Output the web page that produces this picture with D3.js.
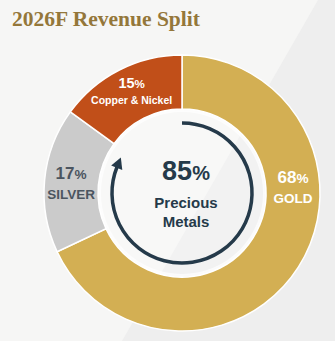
<!DOCTYPE html>
<html><head><meta charset="utf-8">
<script src="https://cdn.jsdelivr.net/npm/d3@7"></script>
<style>html,body{margin:0;padding:0;background:#f6f6f5;}svg{display:block;}</style>
</head><body><svg id="c" width="335" height="341"></svg>
<script>
const title = "2026F Revenue Split";
const categories = ["GOLD", "SILVER", "Copper & Nickel"];
const values = [68, 17, 15];
const centerValue = 85;
const centerLabel = ["Precious", "Metals"];

const colors = ["#d3af53", "#cbcbcb", "#c14f19"];
const labelColors = ["#ffffff", "#4b5560", "#ffffff"];
const W = 335, H = 341, cx = 182, cy = 193, R = 138, r = 84;
const dark = "#253a4a";

const svg = d3.select("#c");
svg.append("rect").attr("width", W).attr("height", H).attr("fill", "#f6f6f5");
svg.append("path").attr("d", "M318,0 L335,0 L335,341 L122,341 Z").attr("fill", "#eeeeee");

svg.append("text").attr("x", 12).attr("y", 26)
  .attr("font-family", "'Liberation Serif', 'DejaVu Serif', serif")
  .attr("font-weight", "bold").attr("font-size", 21.5).attr("fill", "#94773a")
  .text(title);

const g = svg.append("g").attr("transform", `translate(${cx},${cy})`);
const pie = d3.pie().sort(null).value(d => d)(values);
const arc = d3.arc().innerRadius(r).outerRadius(R);
g.selectAll("path.slice").data(pie).join("path").attr("class", "slice")
  .attr("d", arc).attr("fill", (d, i) => colors[i])
  .attr("stroke", "#ffffff").attr("stroke-width", 1.5);

g.append("circle").attr("r", r - 1.5).attr("fill", "#ffffff").attr("fill-opacity", 0.25)
  .attr("stroke", "#ffffff").attr("stroke-width", 3).attr("stroke-opacity", 0.7);

// label placement (layout): angle clockwise from top, baseline offsets
const labelAngle = [90, 272, 333];
const labelR = 111;
const fs = [[17, 13.5], [17, 13.5], [14.5, 10.5]];
const offs = [[-10, 9.5], [-10, 10], [-6, 10]];
pie.forEach((d, i) => {
  const a = labelAngle[i] * Math.PI / 180;
  const x = Math.sin(a) * labelR, y = -Math.cos(a) * labelR;
  const t = g.append("text").attr("x", x).attr("y", y + offs[i][0])
    .attr("text-anchor", "middle").attr("font-family", "'Liberation Sans', Arial, sans-serif")
    .attr("font-weight", "bold").attr("fill", labelColors[i]);
  t.append("tspan").attr("font-size", fs[i][0]).text(values[i]);
  t.append("tspan").attr("font-size", fs[i][0] * 0.8).text("%");
  g.append("text").attr("x", x).attr("y", y + offs[i][1])
    .attr("text-anchor", "middle").attr("font-family", "'Liberation Sans', Arial, sans-serif")
    .attr("font-weight", "bold").attr("font-size", fs[i][1]).attr("fill", labelColors[i])
    .text(categories[i]);
});

// circular arrow
const ar = 70;
const a0 = -Math.PI / 2, a1 = -Math.PI / 2 + 292 * Math.PI / 180;
const p = d3.path();
p.arc(0, 0, ar, a0, a1, false);
g.append("path").attr("d", p.toString()).attr("fill", "none").attr("stroke", dark).attr("stroke-width", 3.5);
const ex = ar * Math.cos(a1), ey = ar * Math.sin(a1);
const tx = -Math.sin(a1), ty = Math.cos(a1);
const nx = Math.cos(a1), ny = Math.sin(a1);
const L = 10, Wd = 6;
g.append("path").attr("d",
  `M${ex + tx * L},${ey + ty * L} L${ex + nx * Wd - tx},${ey + ny * Wd - ty} L${ex - nx * Wd - tx},${ey - ny * Wd - ty} Z`)
  .attr("fill", dark);

// center text
const ct = g.append("text").attr("x", 4).attr("y", -13).attr("text-anchor", "middle")
  .attr("font-family", "'Liberation Sans', Arial, sans-serif").attr("font-weight", "bold").attr("fill", dark);
ct.append("tspan").attr("font-size", 27).text(centerValue);
ct.append("tspan").attr("font-size", 20).text("%");
centerLabel.forEach((s, i) => {
  g.append("text").attr("x", 4).attr("y", 15 + i * 19).attr("text-anchor", "middle")
    .attr("font-family", "'Liberation Sans', Arial, sans-serif").attr("font-weight", "bold")
    .attr("font-size", 15).attr("fill", dark).text(s);
});
</script></body></html>
